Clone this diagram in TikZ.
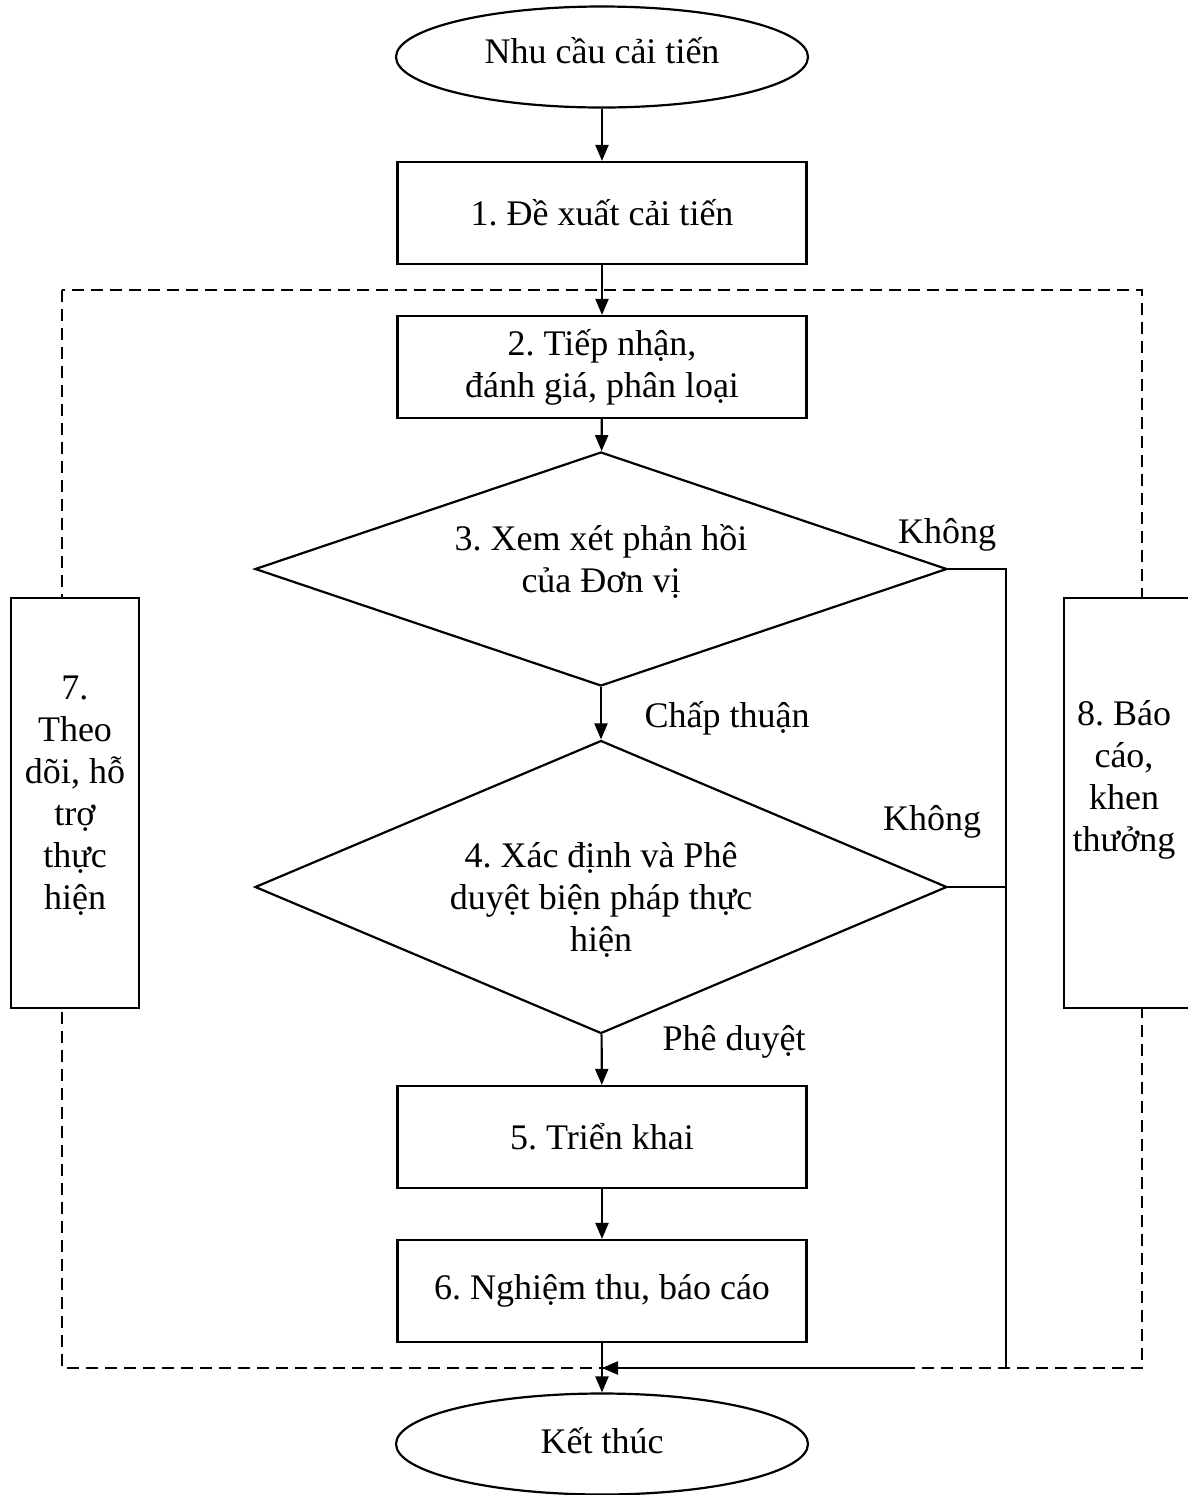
\documentclass[tikz,border=0pt]{standalone}
\usepackage{fontspec}
\setmainfont{Liberation Serif}
\usetikzlibrary{arrows.meta,shapes.geometric}
\frenchspacing
\begin{document}
\begin{tikzpicture}[x=0.5pt,y=-0.5pt,
  every node/.style={font=\fontsize{18}{21}\selectfont},
  conn/.style={line width=1.1pt},
  arr/.style={line width=1.1pt,-{Triangle[length=8pt,width=6.5pt]}},
  procbox/.style={draw,line width=1.1pt,rectangle,minimum width=204.5pt,minimum height=51pt,inner sep=0pt,align=center},
  term/.style={draw,line width=1.1pt,ellipse,minimum width=206pt,minimum height=50.5pt,inner sep=0pt},
  dec/.style={draw,line width=1.1pt,diamond,inner sep=0pt,minimum width=346pt},
  sidebox/.style={draw,line width=1.1pt,fill=white,rectangle,minimum width=64pt,minimum height=205pt,inner sep=0pt},
  txt/.style={align=center,inner sep=0pt},
  guide/.style={line width=1pt,dash pattern=on 6pt off 3.5pt}]
\useasboundingbox (0,0) rectangle (1188,1495);

% dashed frame
\coordinate (gtl) at (62,290);
\coordinate (gbr) at (1142,1368);
\draw[guide] (gtl) rectangle (gbr);

% main column
\node[term,label={[txt,yshift=3pt]center:Nhu cầu cải tiến}] (e1) at (602,57) {};
\node[procbox] (b1) at (602,213) {1. Đề xuất cải tiến};
\node[procbox] (b2) at (602,367) {2. Tiếp nhận,\\đánh giá, phân loại};
\node[dec,minimum height=117pt,label={[txt,yshift=4pt]center:3. Xem xét phản hồi\\của Đơn vị}] (d3) at (601,569) {};
\node[dec,minimum height=146.5pt,label={[txt,yshift=-6.5pt]center:4. Xác định và Phê\\duyệt biện pháp thực\\hiện}] (d4) at (601,887) {};
\node[procbox] (b5) at (602,1137) {5. Triển khai};
\node[procbox] (b6) at (602,1291) {6. Nghiệm thu, báo cáo};
\node[term,label={[txt,yshift=1.5pt]center:Kết thúc}] (e2) at (602,1444) {};

% side boxes
\node[sidebox,label={[txt,yshift=3.5pt]center:7.\\Theo\\dõi, hỗ\\trợ\\thực\\hiện}] (b7) at (75,803) {};
\node[sidebox,label={[txt,xshift=-2pt,yshift=11.5pt]center:8. Báo\\cáo,\\khen\\thưởng}] (b8) at (1128,803) {};

% branch labels
\node[txt] (l1) at (947,535) {Không};
\node[txt] (l2) at (727,718) {Chấp thuận};
\node[txt] (l3) at (932,822) {Không};
\node[txt] (l4) at (734,1042) {Phê duyệt};

% connectors
\draw[arr] (e1) -- (b1);
\draw[arr] (b1) -- (b2);
\draw[arr] (b2) -- (d3);
\draw[arr] (d3) -- (d4);
\draw[arr] (d4) -- (b5);
\draw[arr] (b5) -- (b6);
\draw[arr] (b6) -- (e2);

\coordinate (rj) at (1006,1368);
\coordinate (ra) at (912,1368);
\coordinate (mj) at (602,1368);
\draw[conn] (d3.east) -- (d3.east -| rj) -- (rj);
\draw[conn] (d4.east) -- (d4.east -| rj);
\draw[arr] (ra) -- (mj);
\end{tikzpicture}
\end{document}
